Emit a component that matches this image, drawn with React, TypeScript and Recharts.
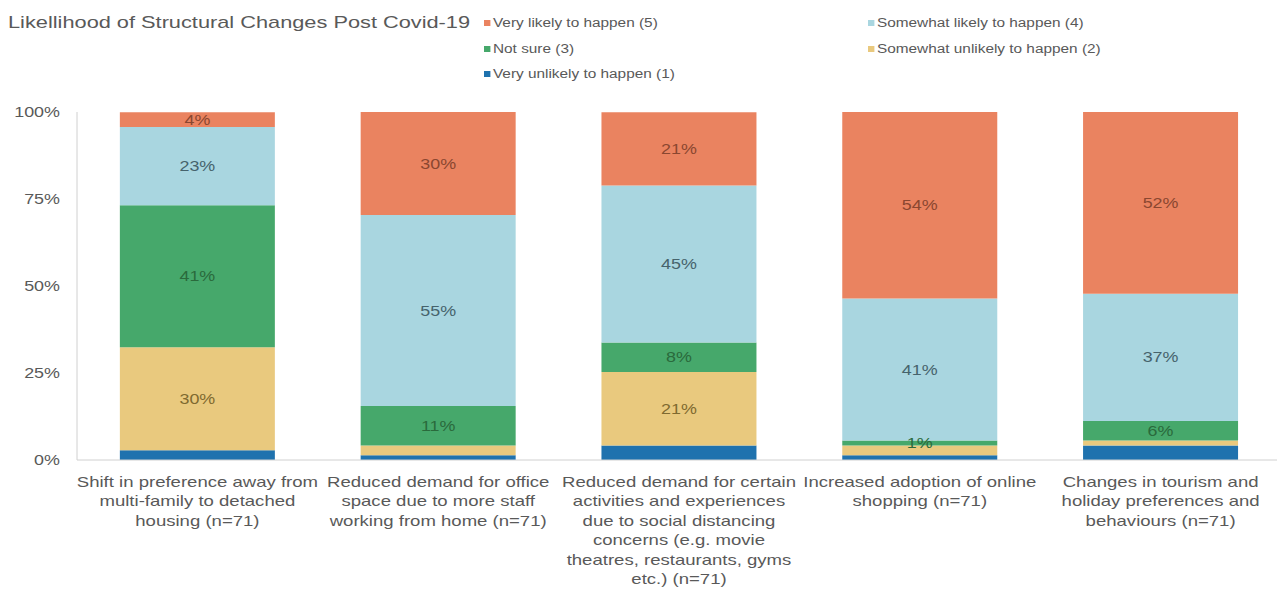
import React from 'react';
import { BarChart, Bar, XAxis, YAxis, LabelList } from 'recharts';

// Survey categories (line breaks as in the original axis labels)
const categories = [
  'Shift in preference away from\nmulti-family to detached\nhousing (n=71)',
  'Reduced demand for office\nspace due to more staff\nworking from home (n=71)',
  'Reduced demand for certain\nactivities and experiences\ndue to social distancing\nconcerns (e.g. movie\ntheatres, restaurants, gyms\netc.) (n=71)',
  'Increased adoption of online\nshopping (n=71)',
  'Changes in tourism and\nholiday preferences and\nbehaviours (n=71)',
];

// share of responses, %
const veryLikely = [4.2, 29.6, 21.1, 53.6, 52.2];
const somewhatLikely = [22.5, 54.9, 45.1, 40.8, 36.6];
const notSure = [40.8, 11.3, 8.45, 1.4, 5.6];
const somewhatUnlikely = [29.6, 2.8, 21.1, 2.8, 1.4];
const veryUnlikely = [2.8, 1.4, 4.2, 1.4, 4.2];

const yTicks = [0, 25, 50, 75, 100];

const series = [
  { key: 'v1', name: 'Very unlikely to happen (1)', color: '#1f72ae', labelColor: '', minLabel: 999 },
  { key: 'v2', name: 'Somewhat unlikely to happen (2)', color: '#e9c97e', labelColor: '#7f6a30', minLabel: 10 },
  { key: 'v3', name: 'Not sure (3)', color: '#46a86b', labelColor: '#2a6a3c', minLabel: 0 },
  { key: 'v4', name: 'Somewhat likely to happen (4)', color: '#a9d6e0', labelColor: '#46636c', minLabel: 0 },
  { key: 'v5', name: 'Very likely to happen (5)', color: '#ea8360', labelColor: '#8a4730', minLabel: 0 },
];

const data = categories.map((c, i) => ({
  name: c,
  v1: veryUnlikely[i],
  v2: somewhatUnlikely[i],
  v3: notSure[i],
  v4: somewhatLikely[i],
  v5: veryLikely[i],
}));

const FONT = 'Liberation Sans, Arial, sans-serif';
const GREY = '#595959';
const SX = 1.28; // text in the original is stretched horizontally

const CategoryTick = (props: any) => {
  const { x, payload } = props;
  const lines = String(payload.value).split('\n');
  return (
    <text transform={`translate(${x},482) scale(${SX},1)`} textAnchor="middle" fill={GREY} fontSize={14.5} fontFamily={FONT}>
      {lines.map((l, i) => (
        <tspan key={i} x={0} dy={i === 0 ? 5 : 19.5}>{l}</tspan>
      ))}
    </text>
  );
};

const PercentTick = (props: any) => {
  const { y, payload } = props;
  return (
    <text transform={`translate(60,${y}) scale(${SX},1)`} dy={5} textAnchor="end" fill={GREY} fontSize={14} fontFamily={FONT}>
      {payload.value}%
    </text>
  );
};

const legendLayout = [
  { key: 'v5', x: 484, y: 22 },
  { key: 'v4', x: 868, y: 22 },
  { key: 'v3', x: 484, y: 48 },
  { key: 'v2', x: 868, y: 48 },
  { key: 'v1', x: 484, y: 73 },
];

const Header = () => (
  <div style={{ position: 'absolute', left: 0, top: 0, width: 1277, height: 100, fontFamily: FONT }}>
    <div style={{ position: 'absolute', left: 8, top: 13, fontSize: 17, color: GREY, whiteSpace: 'nowrap', transform: `scaleX(${SX})`, transformOrigin: 'left center' }}>
      Likellihood of Structural Changes Post Covid-19
    </div>
    {legendLayout.map((l) => {
      const s = series.find((q) => q.key === l.key)!;
      return (
        <div key={l.key} style={{ position: 'absolute', left: l.x, top: l.y - 6, display: 'flex', alignItems: 'center', fontSize: 12, color: GREY, whiteSpace: 'nowrap', transform: `scaleX(${SX})`, transformOrigin: 'left center' }}>
          <span style={{ width: 5, height: 6, background: s.color, marginRight: 2, display: 'inline-block' }} />
          {s.name}
        </div>
      );
    })}
  </div>
);

const makeLabel = (color: string, min: number) => (props: any) => {
  const { x, y, width, height, value } = props;
  if (value < min) return null;
  return (
    <text transform={`translate(${x + width / 2},${y + height / 2}) scale(${SX},1)`} dy={5} textAnchor="middle" fill={color} fontSize={14} fontFamily={FONT}>
      {Math.round(value)}%
    </text>
  );
};

export default function App() {
  return (
    <div style={{ position: 'absolute', left: 0, top: 0, width: 1277, height: 596, background: '#fff', overflow: 'hidden' }}>
      <div style={{ position: 'absolute', left: 0, top: 0 }}>
        <BarChart
          width={1281}
          height={596}
          data={data}
          margin={{ top: 112, right: 0, bottom: 0, left: 0 }}
          barCategoryGap="17.8%"
        >
          <XAxis
            dataKey="name"
            tick={<CategoryTick />}
            tickLine={false}
            axisLine={{ stroke: '#d0d0d0' }}
            interval={0}
            height={136}
          />
          <YAxis
            domain={[0, 100]}
            ticks={yTicks}
            allowDataOverflow
            tick={<PercentTick />}
            tickLine={false}
            axisLine={{ stroke: '#d0d0d0' }}
            width={77}
          />
          {series.map((s) => (
            <Bar key={s.key} dataKey={s.key} name={s.name} stackId="a" fill={s.color} isAnimationActive={false}>
              {s.labelColor ? <LabelList dataKey={s.key} content={makeLabel(s.labelColor, s.minLabel)} /> : null}
            </Bar>
          ))}
        </BarChart>
      </div>
      <Header />
    </div>
  );
}
